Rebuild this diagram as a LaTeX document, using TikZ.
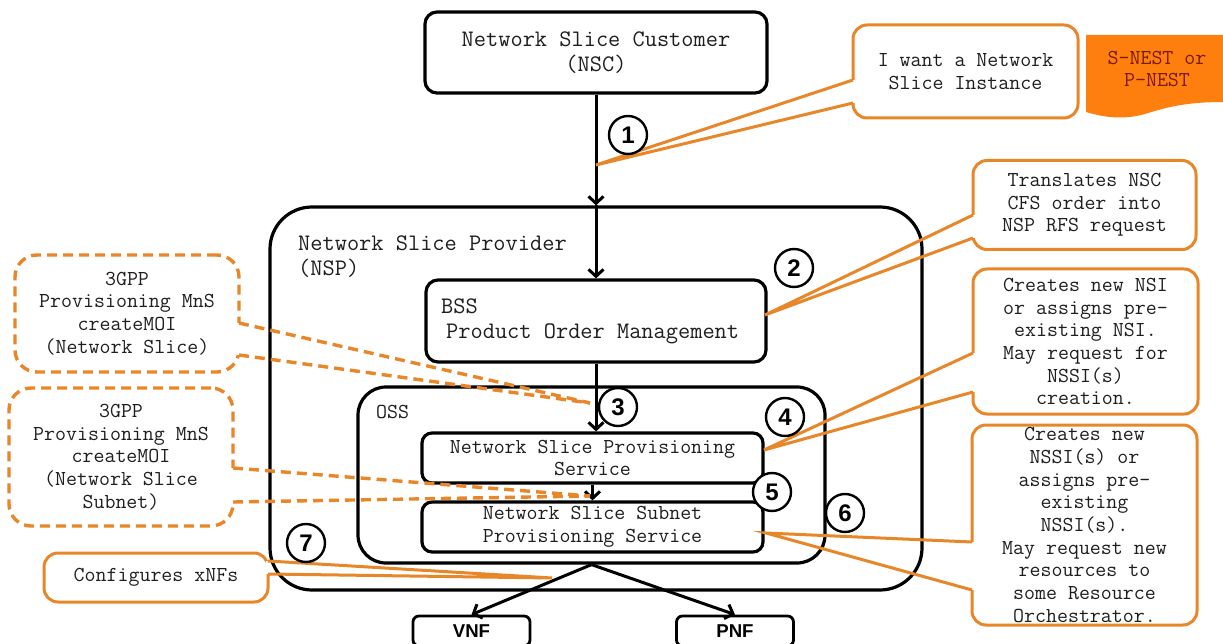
\documentclass[tikz,border=0pt]{standalone}
\usepackage{fontspec}
\newfontfamily\arialfont{Liberation Sans}
\usetikzlibrary{arrows.meta,calc}

\definecolor{callorange}{RGB}{232,134,42}
\definecolor{nestfill}{RGB}{255,127,14}
\definecolor{nesttext}{RGB}{120,28,8}
\definecolor{ink}{RGB}{30,30,30}

\tikzset{
  bigtext/.style={font=\ttfamily\fontsize{23.7}{25}\selectfont, text=ink},
  smalltext/.style={font=\ttfamily\fontsize{21.3}{22.7}\selectfont, text=ink},
  blackbox/.style={draw=black, line width=3.2pt, rounded corners=12pt, fill=white,
                   inner sep=0pt, align=center},
  flow/.style={draw=black, line width=3pt,
               -{Straight Barb[length=7pt,width=15pt]}},
  callbox/.style={draw=callorange, line width=3pt, rounded corners=14pt, fill=white,
                  inner sep=0pt, align=center, smalltext},
  dashbox/.style={draw=callorange, line width=3.4pt, rounded corners=22pt, fill=white,
                  dash pattern=on 10pt off 6pt, inner sep=0pt, align=center, smalltext},
  callline/.style={draw=callorange, line width=3pt},
  dashline/.style={draw=callorange, line width=3.4pt, dash pattern=on 10pt off 6pt},
  gap/.style={draw=white, line width=5pt},
  numcircle/.style={circle, draw=black, line width=2.4pt, fill=white, minimum size=38pt,
                    inner sep=0pt, font=\arialfont\bfseries\fontsize{24}{24}\selectfont},
  nfbox/.style={draw=black, line width=2.8pt, rounded corners=6pt, fill=white,
                minimum width=117pt, minimum height=30pt, inner sep=0pt,
                font=\arialfont\bfseries\fontsize{18.6}{20}\selectfont}
}

\begin{document}
\begin{tikzpicture}[x=1pt,y=-1pt]
\useasboundingbox (0,0) rectangle (1223,644);

% ---- main boxes ----
\node[blackbox, bigtext, minimum width=342pt, minimum height=81pt] (nsc) at (596,52.5)
  {Network Slice Customer\\(NSC)};
\node[blackbox, rounded corners=42pt, minimum width=652pt, minimum height=383pt] (nsp) at (596,398.5) {};
\node[bigtext, align=left, anchor=west, inner sep=0pt] (nsplabel) at (298,256.5)
  {Network Slice Provider\\(NSP)};
\node[blackbox, minimum width=340pt, minimum height=82pt] (bss) at (596,321) {};
\node[bigtext, align=left, anchor=west, inner sep=0pt] (bsslabel) at (441,321)
  {BSS\\\hspace*{5pt}Product Order Management};
\node[blackbox, rounded corners=28pt, minimum width=467pt, minimum height=176pt] (oss) at (591.5,475) {};
\node[smalltext, anchor=west, inner sep=0pt] (osslabel) at (376,412) {OSS};
\node[blackbox, smalltext, rounded corners=10pt, minimum width=341pt, minimum height=50pt] (nsps) at (592.5,458)
  {Network Slice Provisioning\\Service};
\node[blackbox, smalltext, rounded corners=10pt, minimum width=341pt, minimum height=50pt] (nssps) at (592.5,527)
  {Network Slice Subnet\\Provisioning Service};
\node[nfbox] (vnf) at (471.5,631) {VNF};
\node[nfbox] (pnf) at (735,631) {PNF};

% ---- flow arrows ----
\draw[flow] (nsc.south) -- (nsp.north);
\draw[flow] (nsp.north) -- (bss.north);
\draw[flow] (bss.south) -- (bss.south |- nsps.north);
\draw[flow] (nsps.south) -- (nssps.north);
\draw[flow] (oss.south) -- (vnf.north);
\draw[flow] (oss.south) -- (pnf.north);

% ---- S-NEST / P-NEST tag ----
\fill[nestfill] (1086,35) -- (1223,35) -- (1223,102)
  .. controls (1190,102) and (1170,106) .. (1145,114)
  .. controls (1120,121) and (1100,116) .. (1086,112) -- cycle;
\node[smalltext, text=nesttext, align=center, inner sep=0pt] (nest) at (1157,69) {S-NEST or\\P-NEST};

% ---- callouts ----
\node[callbox, minimum width=225pt, minimum height=93pt] (want) at (965.5,71.5)
  {I want a Network\\Slice Instance};
\coordinate (wantA) at (853,80);
\coordinate (wantB) at (853,103);
\coordinate (tipA) at (596,165);
\draw[gap] (wantA) -- (wantB);
\draw[callline] (wantA) -- (tipA) -- (wantB);

\node[callbox, minimum width=223pt, minimum height=89pt] (trans) at (1084.5,205)
  {Translates NSC\\CFS order into\\NSP RFS request};
\coordinate (transA) at (973,215);
\coordinate (transB) at (973,238);
\coordinate (tipB) at (765,315);
\draw[gap] (transA) -- (transB);
\draw[callline] (transA) -- (tipB) -- (transB);

\node[callbox, minimum width=225pt, minimum height=145pt] (nsi) at (1085.5,341.5)
  {Creates new NSI\\or assigns pre-\\existing NSI.\\May request for\\NSSI(s)\\creation.};
\coordinate (nsiA) at (973,353);
\coordinate (nsiB) at (973,392);
\coordinate (tipC) at (764,450);
\draw[gap] (nsiA) -- (nsiB);
\draw[callline] (nsiA) -- (tipC) -- (nsiB);

\node[callbox, minimum width=225pt, minimum height=200pt] (nssi) at (1084.5,525)
  {Creates new\\NSSI(s) or\\assigns pre-\\existing\\NSSI(s).\\May request new\\resources to\\some Resource\\Orchestrator.};
\coordinate (nssiA) at (972,542);
\coordinate (nssiB) at (972,590);
\coordinate (tipD) at (766,533);
\draw[gap] (nssiA) -- (nssiB);
\draw[callline] (nssiA) -- (tipD) -- (nssiB);

\node[callbox, minimum width=224pt, minimum height=49pt] (conf) at (156,577.5)
  {Configures xNFs};
\coordinate (confA) at (268,561);
\coordinate (confB) at (268,574);
\coordinate (tipE) at (552,578);
\draw[gap] (confA) -- (confB);
\draw[callline] (confA) -- (tipE) -- (confB);

\node[dashbox, minimum width=224pt, minimum height=117pt] (moins) at (127,313.5)
  {3GPP\\Provisioning MnS\\createMOI\\(Network Slice)};
\coordinate (moinsA) at (239,323);
\coordinate (moinsB) at (239,355);
\coordinate (tipF) at (590,403);
\draw[gap] (moinsA) -- (moinsB);
\draw[dashline] (moinsA) -- (tipF);
\draw[dashline] (moinsB) -- (tipF);

\node[dashbox, minimum width=224pt, minimum height=138pt] (moinss) at (121,457)
  {3GPP\\Provisioning MnS\\createMOI\\(Network Slice\\Subnet)};
\coordinate (moinssA) at (233,468);
\coordinate (moinssB) at (233,502);
\coordinate (tipG) at (590,496);
\draw[gap] (moinssA) -- (moinssB);
\draw[dashline] (moinssA) -- (tipG);
\draw[dashline] (moinssB) -- (tipG);

% ---- step numbers ----
\node[numcircle] (n1) at (628,135) {1};
\node[numcircle] (n2) at (794,268) {2};
\node[numcircle] (n3) at (618,407) {3};
\node[numcircle] (n4) at (785,417) {4};
\node[numcircle] (n5) at (772,492) {5};
\node[numcircle] (n6) at (845,513) {6};
\node[numcircle] (n7) at (306,543) {7};
\end{tikzpicture}
\end{document}
